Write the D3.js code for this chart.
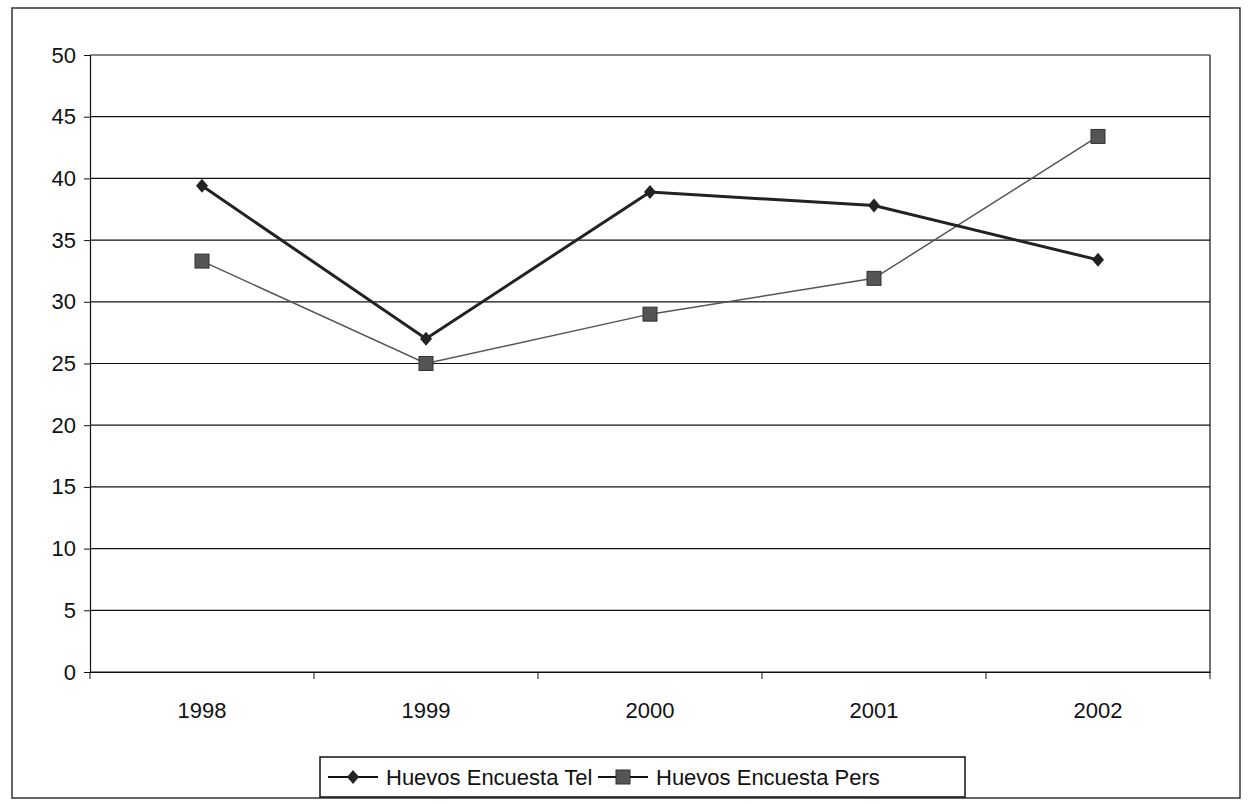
<!DOCTYPE html>
<html><head><meta charset="utf-8">
<script src="https://cdn.jsdelivr.net/npm/d3@7"></script>
<style>body{margin:0;background:#fff}svg{font-family:"Liberation Sans",Arial,sans-serif}</style>
</head><body><svg id="c" width="1252" height="804"></svg>
<script>
const years = ["1998","1999","2000","2001","2002"];
const tel = [39.4, 27.0, 38.9, 37.8, 33.4];
const pers = [33.3, 25.0, 29.0, 31.9, 43.4];
const yTicks = [0,5,10,15,20,25,30,35,40,45,50];
const seriesNames = ["Huevos Encuesta Tel","Huevos Encuesta Pers"];

const svg = d3.select("#c");
svg.append("rect").attr("x",12).attr("y",8).attr("width",1228).attr("height",790).attr("fill","none").attr("stroke","#333").attr("stroke-width",1.5);
const L=90,R=1210,T=55,B=672;
const x = d3.scaleBand().domain(years).range([L,R]);
const y = d3.scaleLinear().domain([0,50]).range([B,T]);
const g = svg.append("g");
g.selectAll(".grid").data(yTicks).join("line").attr("x1",L).attr("x2",R)
 .attr("y1",d=>y(d)).attr("y2",d=>y(d)).attr("stroke","#111").attr("stroke-width",1.2);
g.append("line").attr("x1",R).attr("x2",R).attr("y1",T).attr("y2",B).attr("stroke","#111").attr("stroke-width",1.2);
const ya = g.append("g").attr("transform",`translate(${L},0)`).call(d3.axisLeft(y).tickValues(yTicks).tickSize(6).tickPadding(8));
const xa = g.append("g").attr("transform",`translate(0,${B})`).call(d3.axisBottom(x).tickSize(0).tickPadding(30));
xa.selectAll(".tick").append("line").attr("x1",-x.bandwidth()/2).attr("x2",-x.bandwidth()/2).attr("y1",0).attr("y2",7).attr("stroke","#111");
xa.append("line").attr("x1",R).attr("x2",R).attr("y1",0).attr("y2",7).attr("stroke","#111");
[ya,xa].forEach(a=>{a.attr("font-size",22).attr("font-family","Liberation Sans, Arial");a.selectAll("text").attr("fill","#111");a.selectAll(".domain").attr("stroke","#111").attr("stroke-width",1.2);a.selectAll(".tick line").attr("stroke","#111");});
const cx = d=>x(d)+x.bandwidth()/2;
const line = d3.line().x((d,i)=>cx(years[i])).y(d=>y(d));
g.append("path").datum(pers).attr("d",line).attr("fill","none").attr("stroke","#555").attr("stroke-width",1.5);
g.append("path").datum(tel).attr("d",line).attr("fill","none").attr("stroke","#222").attr("stroke-width",3);
g.selectAll(".sq").data(pers).join("rect").attr("x",(d,i)=>cx(years[i])-7).attr("y",d=>y(d)-7).attr("width",14).attr("height",14).attr("fill","#555").attr("stroke","#333");
const dia = "M0,-7L6,0L0,7L-6,0Z";
g.selectAll(".di").data(tel).join("path").attr("d",dia).attr("transform",(d,i)=>`translate(${cx(years[i])},${y(d)})`).attr("fill","#222");
// legend
const lg = svg.append("g");
lg.append("rect").attr("x",320).attr("y",757).attr("width",645).attr("height",40).attr("fill","#fff").attr("stroke","#111").attr("stroke-width",1.5);
const items=[{x:328,n:seriesNames[0],t:"d"},{x:598,n:seriesNames[1],t:"s"}];
items.forEach(it=>{
  lg.append("line").attr("x1",it.x).attr("x2",it.x+50).attr("y1",777).attr("y2",777).attr("stroke","#111").attr("stroke-width",2);
  if(it.t==="d") lg.append("path").attr("d",dia).attr("transform",`translate(${it.x+25},777)`).attr("fill","#222");
  else lg.append("rect").attr("x",it.x+18).attr("y",770).attr("width",14).attr("height",14).attr("fill","#555").attr("stroke","#333");
  lg.append("text").attr("x",it.x+58).attr("y",785).attr("font-size",22).attr("fill","#111").text(it.n);
});
</script></body></html>
